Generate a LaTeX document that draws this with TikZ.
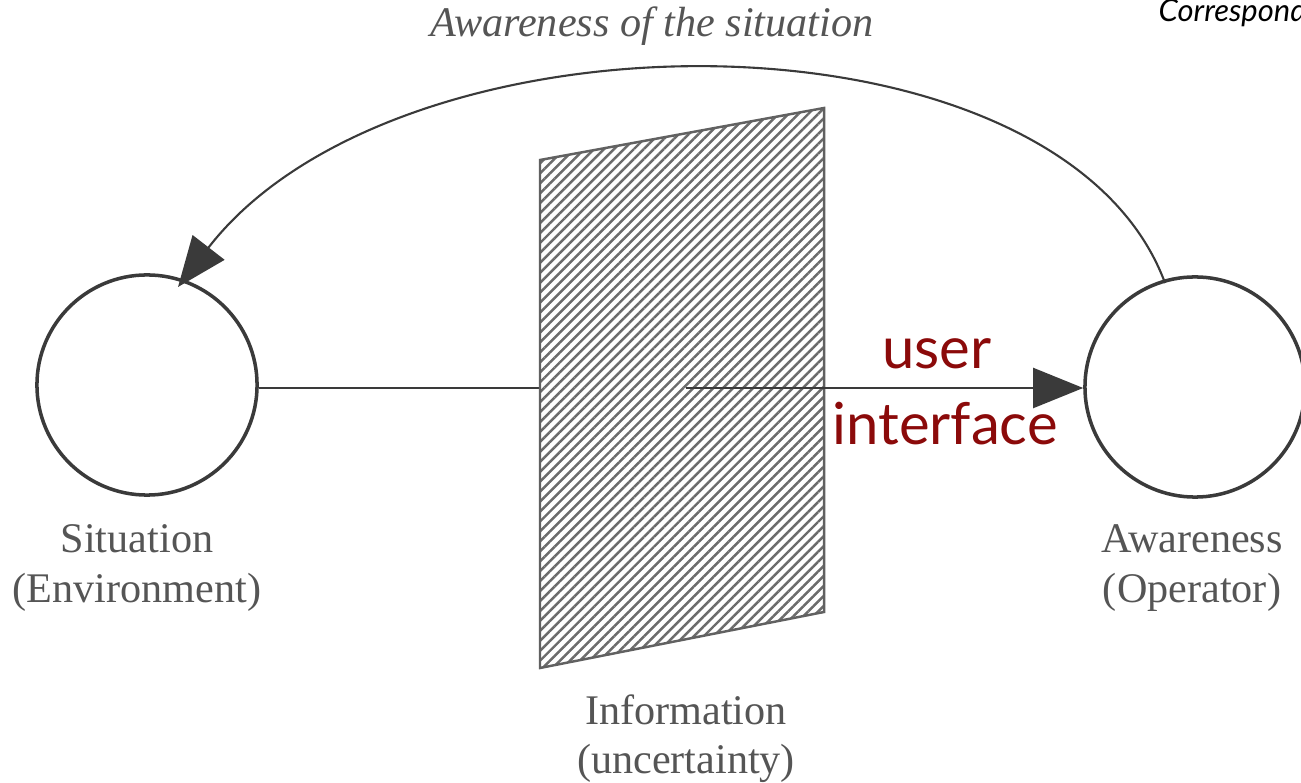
\documentclass[tikz,border=0pt]{standalone}
\usepackage{fontspec}
\setmainfont{Liberation Serif}
\newfontfamily\uifont{Lato}
\usetikzlibrary{arrows.meta,patterns.meta}
\definecolor{scan}{HTML}{555555}
\definecolor{lineg}{HTML}{3A3A3A}
\definecolor{uired}{HTML}{8B0A0A}
\tikzset{
  circ/.style={circle, draw=lineg, line width=1pt, minimum size=2.2cm, inner sep=0pt},
  lbl/.style={text=scan, font=\fontsize{12}{14}\selectfont, align=center, inner sep=0pt},
  conn/.style={draw=lineg, line width=0.6pt},
  bigtip/.style={-{Triangle[length=0.5cm,width=0.4cm,fill=lineg]}}
}
\begin{document}
\begin{tikzpicture}[x=0.01cm,y=-0.01cm]
\useasboundingbox (0,0) rectangle (1301,783);
\clip (0,0) rectangle (1301,783);
% circles
\node[circ] (sit) at (147,385) {};
\node[circ] (awa) at (1195,387) {};
% labels
\node[lbl] (sitl) at (137,568) {Situation\\(Environment)};
\node[lbl] (awal) at (1192,568) {Awareness\\(Operator)};
\node[lbl] (infl) at (686,739) {Information\\(uncertainty)};
\node[lbl, font=\itshape\fontsize{12}{14}\selectfont] (top) at (652,26) {Awareness of the situation};
% panel
\coordinate (p1) at (540,160);
\coordinate (p2) at (824,108);
\coordinate (p3) at (824,612);
\coordinate (p4) at (540,668);
\coordinate (pl) at (540,388);
\coordinate (pm) at (686,388);
\draw[conn] (sit.east |- pl) -- (pl);
\path[fill=white] (p1) -- (p2) -- (p3) -- (p4) -- cycle;
\path[pattern={Lines[angle=45,distance=2pt,line width=0.7pt]}, pattern color=lineg!75] (p1) -- (p2) -- (p3) -- (p4) -- cycle;
\draw[draw=lineg!80, line width=0.7pt] (p1) -- (p2) -- (p3) -- (p4) -- cycle;
\draw[conn, bigtip] (pm) -- (awa.west |- pm);
% feedback arc
\coordinate (arcs) at (1165,283);
\coordinate (arce) at (178,287);
\draw[conn, bigtip] (arcs) .. controls (1060,0) and (400,0) .. (arce);
% user interface
\node[text=uired, font=\uifont\fontsize{16.5}{21.6}\selectfont, align=center, inner sep=0pt] (ui) at (945,392) {user\hspace*{0.16cm}\\interface};
\node[anchor=base west, inner sep=0pt, font=\uifont\itshape\fontsize{8.8}{10}\selectfont] (corr) at (1158,22) {Correspondence};
\end{tikzpicture}
\end{document}
